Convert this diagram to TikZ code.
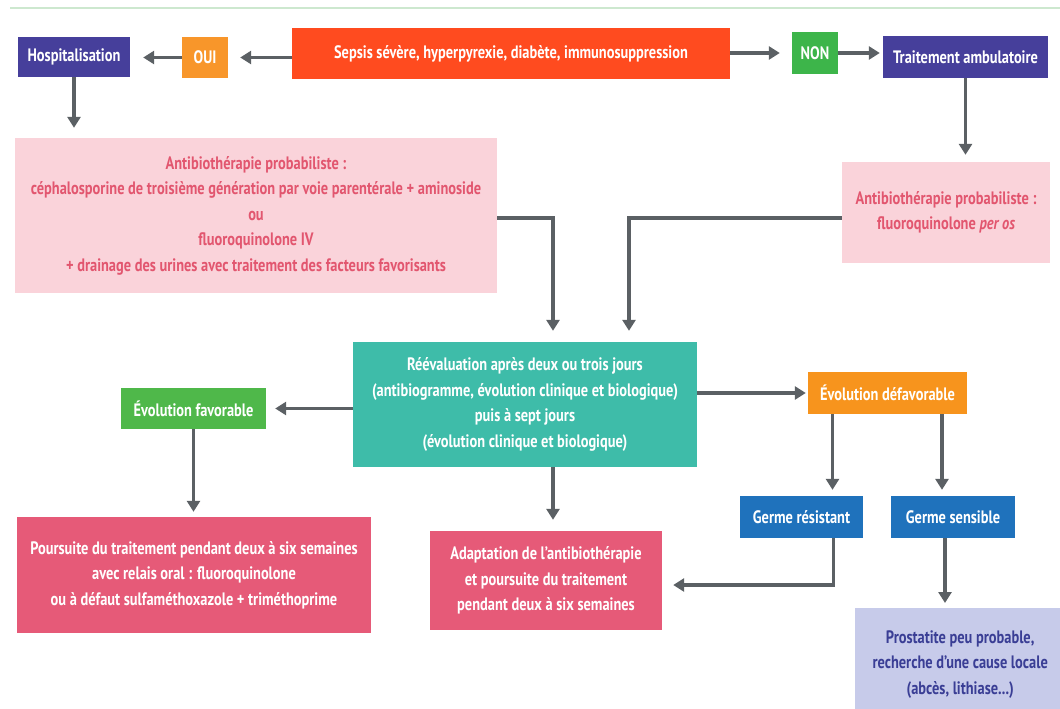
\documentclass[tikz,border=0pt]{standalone}
\usepackage{fontspec}
\setmainfont{PT Sans}[FakeStretch=0.8]
\usetikzlibrary{arrows.meta}
\definecolor{topLine}{HTML}{CDE8CF}
\definecolor{flowGray}{HTML}{5B6064}
\definecolor{hospBlue}{HTML}{463F9B}
\definecolor{sepsisRed}{HTML}{FF4B1F}
\definecolor{ouiOrange}{HTML}{F8962A}
\definecolor{nonGreen}{HTML}{3DB54A}
\definecolor{atbPink}{HTML}{FAD3DA}
\definecolor{atbText}{HTML}{E2566F}
\definecolor{reevalTeal}{HTML}{3EBCA9}
\definecolor{favGreen}{HTML}{4FB84A}
\definecolor{defavOrange}{HTML}{F7941D}
\definecolor{germBlue}{HTML}{1F72BC}
\definecolor{suiteRose}{HTML}{E65A78}
\definecolor{prostLav}{HTML}{C7CBEA}
\definecolor{prostText}{HTML}{3A3E95}
\tikzset{
  box/.style={
    rectangle, inner sep=3pt, align=center,
    font=\fontsize{18}{25.5}\selectfont\bfseries, text=white
  },
  hospbox/.style={box, fill=hospBlue},
  answer/.style={box, fill=#1},
  atb/.style={box, fill=atbPink, text=atbText},
  suite/.style={box, fill=suiteRose},
  germ/.style={box, fill=germBlue},
  flow/.style={-{Triangle[length=11pt,width=13pt]}, line width=3.4pt, draw=flowGray}
}

\begin{document}
\begin{tikzpicture}[x=1pt,y=-1pt]
  \clip (0,0) rectangle (1060,709);
  \fill[white] (0,0) rectangle (1060,709);
  % thin rule along the top
  \draw[topLine, line width=1.5pt] (10,8) -- (1060,8);

  % decision row
  \node[box, fill=sepsisRed, minimum width=438pt, minimum height=51pt] (sepsis) at (511,53.5)
    {Sepsis sévère, hyperpyrexie, diabète, immunosuppression};
  \node[answer=ouiOrange, minimum width=46pt, minimum height=41pt] (oui) at (205,57.5) {OUI};
  \node[answer=nonGreen, minimum width=46pt, minimum height=42pt] (non) at (815,53) {NON};
  \node[hospbox, minimum width=112pt, minimum height=40pt] (hosp) at (74,57) {Hospitalisation};
  \node[hospbox, minimum width=165pt, minimum height=42pt] (amb) at (965.5,57) {Traitement ambulatoire};

  % probabilistic antibiotherapy
  \node[atb, minimum width=482pt, minimum height=155pt] (atbL) at (256,215.5)
    {Antibiothérapie probabiliste :\\
     céphalosporine de troisième génération par voie parentérale + aminoside\\
     ou\\
     fluoroquinolone IV\\
     + drainage des urines avec traitement des facteurs favorisants};
  \node[atb, minimum width=208pt, minimum height=101pt] (atbR) at (946,212.5)
    {Antibiothérapie probabiliste :\\ fluoroquinolone {\itshape per os}};

  % reassessment
  \node[box, fill=reevalTeal, minimum width=344pt, minimum height=125pt] (reeval) at (525,404.5)
    {Réévaluation après deux ou trois jours\\
     (antibiogramme, évolution clinique et biologique)\\
     puis à sept jours\\
     (évolution clinique et biologique)};
  \node[box, fill=favGreen, minimum width=145pt, minimum height=41pt] (fav) at (193.5,408.5) {Évolution favorable};
  \node[box, fill=defavOrange, minimum width=159pt, minimum height=42pt] (defav) at (887.5,393) {Évolution défavorable};
  \node[germ, minimum width=123pt, minimum height=42pt] (resist) at (801.5,517) {Germe résistant};
  \node[germ, minimum width=124pt, minimum height=42pt] (sensib) at (953,517) {Germe sensible};

  % outcomes
  \node[suite, minimum width=354pt, minimum height=116pt] (poursuite) at (194,575)
    {Poursuite du traitement pendant deux à six semaines\\
     avec relais oral : fluoroquinolone\\
     ou à défaut sulfaméthoxazole + triméthoprime};
  \node[suite, minimum width=232pt, minimum height=99pt] (adapt) at (546,580.5)
    {Adaptation de l’antibiothérapie\\
     et poursuite du traitement\\
     pendant deux à six semaines};
  \node[box, fill=prostLav, text=prostText, minimum width=210pt, minimum height=112pt,
        anchor=north west] (prost) at (855,608)
    {Prostatite peu probable,\\
     recherche d’une cause locale\\
     (abcès, lithiase...)};

  % connectors
  \draw[flow, shorten >=12pt] (sepsis.west |- oui.east) -- (oui.east);
  \draw[flow, shorten >=13pt] (oui.west) -- (oui.west -| hosp.east);
  \draw[flow, shorten >=12pt] (sepsis.east |- non.west) -- (non.west);
  \draw[flow, shorten >=3pt] (non.east) -- (non.east -| amb.west);
  \draw[flow, shorten >=10pt] (hosp.south) -- (hosp.south |- atbL.north);
  \draw[flow, shorten >=7pt] (amb.south) -- (amb.south |- atbR.north);

  \coordinate (inL) at ([xshift=28pt]reeval.north);
  \coordinate (inR) at ([xshift=104pt]reeval.north);
  \draw[flow, shorten >=11pt] ([yshift=-2.5pt]atbL.east) -| (inL);
  \draw[flow, shorten >=11pt] ([yshift=-5.5pt]atbR.west) -| (inR);

  \draw[flow, shorten >=9pt] (reeval.west |- fav.east) -- (fav.east);
  \draw[flow, shorten >=2pt] (reeval.east |- defav.west) -- (defav.west);
  \draw[flow, shorten >=5pt] (fav.south) -- (fav.south |- poursuite.north);

  \coordinate (outR) at ([xshift=28pt]reeval.south);
  \draw[flow, shorten >=11pt] (outR) -- (outR |- adapt.north);

  \coordinate (toRes) at ([xshift=31pt]resist.north);
  \coordinate (toSens) at ([xshift=-11pt]sensib.north);
  \draw[flow, shorten >=6pt] (toRes |- defav.south) -- (toRes);
  \draw[flow, shorten >=6pt] (toSens |- defav.south) -- (toSens);

  \coordinate (fromRes) at ([xshift=32pt]resist.south);
  \draw[flow, shorten >=11pt] (fromRes) |- ([yshift=-4.5pt]adapt.east);
  \coordinate (fromSens) at ([xshift=-8pt]sensib.south);
  \draw[flow, shorten >=5pt] (fromSens) -- (fromSens |- prost.north);
\end{tikzpicture}
\end{document}
